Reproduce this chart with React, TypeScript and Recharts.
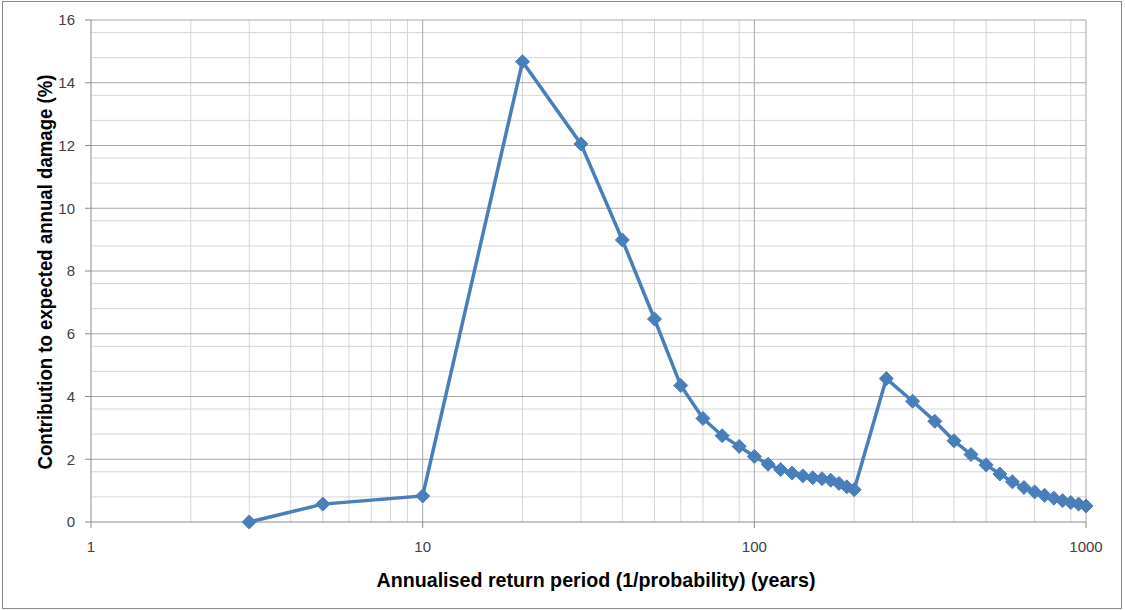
import React from 'react';
import { CartesianGrid, Line, LineChart, XAxis, YAxis } from 'recharts';

const returnPeriods = [
  3, 5, 10, 20, 30, 40, 50, 60, 70, 80, 90, 100, 110, 120, 130, 140, 150, 160, 170, 180, 190, 200,
  250, 300, 350, 400, 450, 500, 550, 600, 650, 700, 750, 800, 850, 900, 950, 1000
];
const contributions = [
  0.0, 0.57, 0.83, 14.67, 12.05, 8.99, 6.47, 4.35, 3.3, 2.75, 2.41, 2.09, 1.84, 1.67, 1.56, 1.47, 1.41, 1.38, 1.33, 1.23, 1.12, 1.03,
  4.57, 3.85, 3.21, 2.59, 2.15, 1.82, 1.53, 1.28, 1.1, 0.96, 0.85, 0.76, 0.68, 0.62, 0.57, 0.51
];

const xTicks = [1, 10, 100, 1000];
const yTicks = [0, 2, 4, 6, 8, 10, 12, 14, 16];
const xMinorGrid = [2, 3, 4, 5, 6, 7, 8, 9, 20, 30, 40, 50, 60, 70, 80, 90, 200, 300, 400, 500, 600, 700, 800, 900];
const yMinorStep = 0.4;

const xTitle = 'Annualised return period (1/probability) (years)';
const yTitle = 'Contribution to expected annual damage (%)';

const data = returnPeriods.map((period, i) => ({ period, value: contributions[i] }));

const yMinorGrid: number[] = [];
for (let v = yMinorStep; v < 16; v += yMinorStep) {
  const rounded = Math.round(v * 10) / 10;
  if (rounded % 2 !== 0) yMinorGrid.push(rounded);
}

const BLUE = '#4A7EBB';
const FONT = '"Liberation Sans", Arial, sans-serif';

function Diamond(props: { cx?: number; cy?: number; index?: number }) {
  const { cx, cy, index } = props;
  if (cx == null || cy == null) return <g key={index} />;
  const r = 7;
  return (
    <path
      key={index}
      d={`M${cx},${cy - r} L${cx + r},${cy} L${cx},${cy + r} L${cx - r},${cy} Z`}
      fill={BLUE}
      stroke={BLUE}
      strokeWidth={1}
    />
  );
}

export default function App() {
  return (
    <div style={{ position: 'absolute', left: 0, top: 0, width: 1125, height: 610, background: '#fff' }}>
      <div
        style={{
          position: 'absolute',
          left: 2,
          top: 1,
          width: 1120,
          height: 608,
          border: '1px solid #8a8a8a',
          boxSizing: 'border-box'
        }}
      />
      <div style={{ position: 'absolute', left: 0, top: 0 }}>
        <LineChart width={1125} height={610} data={data} margin={{ top: 20, right: 39, left: 31, bottom: 58 }}>
          <CartesianGrid
            stroke="#d6d6d6"
            horizontalValues={yMinorGrid}
            verticalValues={xMinorGrid}
          />
          <CartesianGrid
            stroke="#a8a8a8"
            horizontalValues={yTicks.filter(t => t > 0)}
            verticalValues={xTicks.filter(t => t > 1)}
          />
          <XAxis
            dataKey="period"
            type="number"
            scale="log"
            domain={[1, 1000]}
            ticks={xTicks}
            height={30}
            tickSize={6}
            tickMargin={13}
            stroke="#8a8a8a"
            tick={{ fill: '#404040', fontSize: 15, fontFamily: FONT }}
          />
          <YAxis
            type="number"
            domain={[0, 16]}
            ticks={yTicks}
            width={60}
            tickSize={6}
            tickMargin={10}
            stroke="#8a8a8a"
            tick={{ fill: '#404040', fontSize: 15, fontFamily: FONT }}
          />
          <Line
            type="linear"
            dataKey="value"
            stroke={BLUE}
            strokeWidth={3.5}
            dot={(p: { cx?: number; cy?: number; index?: number }) => <Diamond key={p.index} {...p} />}
            activeDot={false}
            isAnimationActive={false}
          />
        </LineChart>
      </div>
      <svg width={1125} height={610} style={{ position: 'absolute', left: 0, top: 0, pointerEvents: 'none' }}>
        <text
          x={596}
          y={587}
          textAnchor="middle"
          fontFamily={FONT}
          fontWeight="bold"
          fontSize={20}
          fill="#000"
          textLength={439}
          lengthAdjust="spacingAndGlyphs"
        >
          {xTitle}
        </text>
        <text
          x={0}
          y={0}
          transform="translate(52, 272) rotate(-90)"
          textAnchor="middle"
          fontFamily={FONT}
          fontWeight="bold"
          fontSize={21}
          fill="#000"
          textLength={395}
          lengthAdjust="spacingAndGlyphs"
        >
          {yTitle}
        </text>
      </svg>
    </div>
  );
}
